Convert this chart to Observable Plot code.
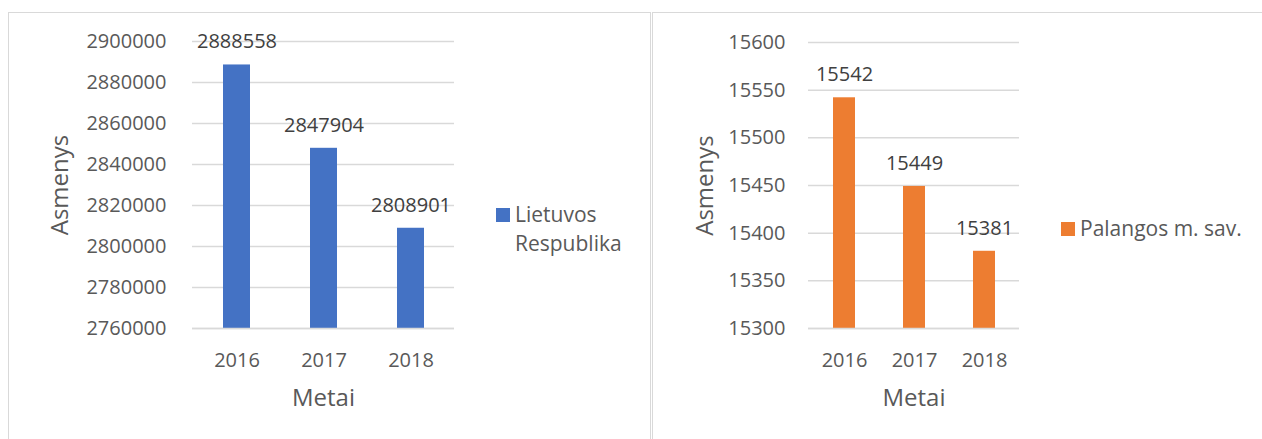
<!DOCTYPE html>
<html>
<head>
<meta charset="utf-8">
<script src="https://cdn.jsdelivr.net/npm/d3@7"></script>
<script src="https://cdn.jsdelivr.net/npm/@observablehq/plot@0.6"></script>
<style>
  html, body { margin: 0; padding: 0; background: #fff; }
  #wrap { position: relative; width: 1262px; height: 439px; overflow: hidden; font-family: "Open Sans", sans-serif; }
  .panel { position: absolute; border: 1.5px solid #d9d9d9; box-sizing: border-box; }
  .chart { position: absolute; top: 0; }
  .legend { position: absolute; font-size: 21px; color: #595959; line-height: 29px; display: flex; align-items: flex-start; }
  .legend .sw { width: 14px; height: 14px; margin-top: 8px; margin-right: 5px; flex: none; }
</style>
</head>
<body>
<div id="wrap">
  <div class="panel" style="left:8px; top:12px; width:643px; height:460px;"></div>
  <div class="panel" style="left:652px; top:12px; width:640px; height:460px;"></div>
  <div id="c1" class="chart" style="left:0px;"></div>
  <div id="c2" class="chart" style="left:652px;"></div>
  <div class="legend" style="left:496px; top:200px;"><div class="sw" style="background:#4472C4"></div><div>Lietuvos<br>Respublika</div></div>
  <div class="legend" style="left:1061px; top:214px;"><div class="sw" style="background:#ED7D31"></div><div>Palangos m. sav.</div></div>
</div>
<script>
const years = ["2016", "2017", "2018"];
const lietuvaValues = [2888558, 2847904, 2808901];
const palangaValues = [15542, 15449, 15381];
const lietuvaTicks = [2760000, 2780000, 2800000, 2820000, 2840000, 2860000, 2880000, 2900000];
const palangaTicks = [15300, 15350, 15400, 15450, 15500, 15550, 15600];
const yLabel = "Asmenys";
const xLabel = "Metai";

function makeChart(values, ticks, color, opts) {
  const data = years.map((y, i) => ({year: y, value: values[i]}));
  const lo = ticks[0], hi = ticks[ticks.length - 1];
  return Plot.plot({
    width: opts.width,
    height: 439,
    marginLeft: opts.marginLeft,
    marginRight: opts.marginRight,
    marginTop: opts.marginTop,
    marginBottom: 439 - 328,
    style: {fontFamily: "'Open Sans', sans-serif", background: "transparent", overflow: "visible"},
    x: {domain: years, paddingInner: 0.69, paddingOuter: 0.345, label: null},
    y: {domain: [lo, hi], label: null},
    marks: [
      Plot.gridY(ticks, {stroke: "#d9d9d9", strokeOpacity: 1, strokeWidth: 1.5}),
      Plot.barY(data, {x: "year", y1: lo, y2: "value", fill: color}),
      Plot.ruleY([lo], {stroke: "#d9d9d9", strokeWidth: 1.5}),
      Plot.text(data, {x: "year", y: "value", text: d => String(d.value), dy: -23, fontSize: 20, fill: "#404040"}),
      Plot.axisY(ticks, {tickSize: 0, tickPadding: opts.tickPadding, fontSize: 20, fill: "#595959", tickFormat: d => String(d), label: null}),
      Plot.axisX({tickSize: 0, tickPadding: 24, fontSize: 20, fill: "#595959", label: null}),
      Plot.text([yLabel], {frameAnchor: "left", textAnchor: "middle", lineAnchor: "middle", text: d => d, rotate: -90, dx: opts.yLabelDx, fontSize: 24, fill: "#595959"}),
      Plot.text([xLabel], {frameAnchor: "bottom", textAnchor: "middle", lineAnchor: "middle", text: d => d, dy: 70, fontSize: 24, fill: "#595959"})
    ]
  });
}

document.getElementById("c1").appendChild(makeChart(lietuvaValues, lietuvaTicks, "#4472C4",
  {width: 650, marginLeft: 192, marginRight: 196, marginTop: 41, tickPadding: 26, yLabelDx: -132}));
document.getElementById("c2").appendChild(makeChart(palangaValues, palangaTicks, "#ED7D31",
  {width: 610, marginLeft: 156, marginRight: 243, marginTop: 42, tickPadding: 23, yLabelDx: -103}));
</script>
</body>
</html>
